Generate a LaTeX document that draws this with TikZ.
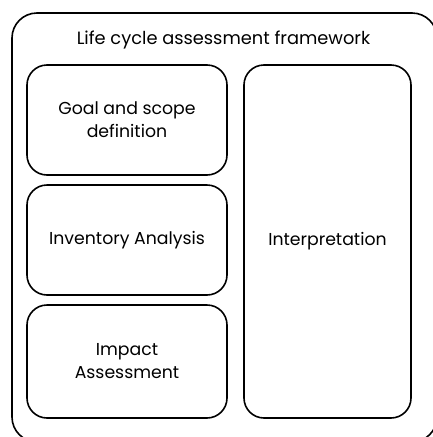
\documentclass[tikz,border=0pt]{standalone}
\usepackage{fontspec}
\setmainfont{Poppins}
\usepackage{tikz}
\usetikzlibrary{positioning}
\tikzset{%
	every stage/.style={
		draw,
		line width=1.6pt,
		rounded corners=20pt,
		align=center,
		font=\fontsize{17.3}{23}\selectfont
	},
}

\begin{document}
\begin{tikzpicture}[x=1pt,y=-1pt]
			% Fix the page size
			\useasboundingbox (0,0) rectangle (433,437);
			\clip (0,0) rectangle (433,437);
			
			% Draw the outer frame
			\draw[line width=1.6pt, rounded corners=25pt] (12,13) rectangle (437,442);
			\node[font=\fontsize{17.8}{23}\selectfont] (title) at (223.5,40) {Life cycle assessment framework};
			
			% Draw the three phases on the left
			\node[every stage, minimum width=200pt, minimum height=110pt] (goal) at (127,120) {Goal and scope\\definition};
			\node[every stage, minimum width=200pt, minimum height=110pt] (inventory) at (127,240) {Inventory Analysis};
			\node[every stage, minimum width=200pt, minimum height=113pt] (impact) at (127,361.5) {Impact\\Assessment};
			
			% Draw the box on the right
			\node[every stage, minimum width=167pt, minimum height=353pt] (interpretation) at (327.5,241.5) {Interpretation};
			
		\end{tikzpicture}
\end{document}
